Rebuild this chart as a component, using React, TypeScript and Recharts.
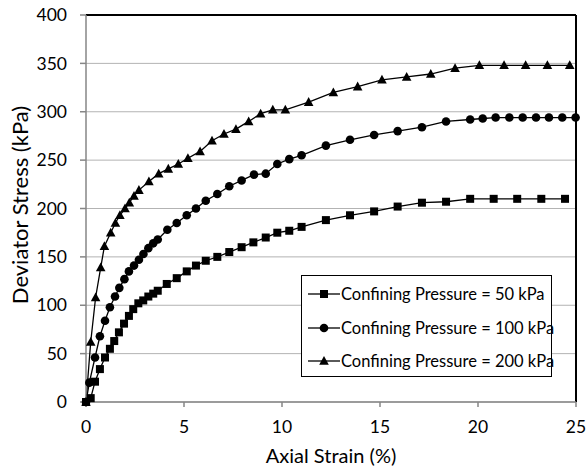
import React from "react";
import {
  LineChart,
  Line,
  XAxis,
  YAxis,
  CartesianGrid,
  ReferenceLine,
} from "recharts";

// Axial strain (%) / deviator stress (kPa)
const strain50 = [0, 0.24, 0.46, 0.71, 0.97, 1.22, 1.44, 1.68, 1.94, 2.19, 2.41, 2.67, 2.92, 3.18, 3.43, 3.66, 4.12, 4.63, 5.14, 5.61, 6.11, 6.7, 7.31, 7.94, 8.54, 9.17, 9.76, 10.37, 11.0, 12.24, 13.47, 14.7, 15.9, 17.14, 18.37, 19.6, 20.8, 22.0, 23.23, 24.44];
const stress50 = [0, 4, 21, 34, 46, 55, 63, 72, 81, 89, 96, 102, 105, 109, 112, 115, 122, 128, 135, 141, 146, 150, 155, 160, 165, 170, 175, 177, 181, 188, 193, 197, 202, 206, 207, 210, 210, 210, 210, 210];

const strain100 = [0, 0.17, 0.46, 0.71, 0.97, 1.22, 1.48, 1.7, 1.96, 2.19, 2.45, 2.7, 2.93, 3.18, 3.43, 3.66, 4.15, 4.63, 5.14, 5.61, 6.11, 6.7, 7.31, 7.94, 8.57, 9.17, 9.76, 10.37, 11.0, 12.24, 13.47, 14.7, 15.9, 17.14, 18.37, 19.6, 20.24, 20.9, 21.6, 22.28, 22.96, 23.62, 24.3, 24.98];
const stress100 = [0, 20, 46, 68, 84, 98, 109, 118, 127, 135, 141, 147, 153, 159, 164, 168, 178, 185, 193, 200, 208, 215, 223, 229, 235, 236, 246, 251, 255, 265, 271, 276, 280, 284, 290, 292, 293, 294, 294, 294, 294, 294, 294, 294];

const strain200 = [0, 0.24, 0.49, 0.75, 0.94, 1.26, 1.5, 1.73, 1.99, 2.21, 2.45, 2.7, 3.21, 3.71, 4.2, 4.71, 5.2, 5.82, 6.43, 7.04, 7.65, 8.3, 8.91, 9.53, 10.17, 11.36, 12.62, 13.86, 15.1, 16.36, 17.59, 18.83, 20.07, 21.33, 22.43, 23.54, 24.68];
const stress200 = [0, 62, 108, 139, 161, 175, 185, 193, 200, 206, 213, 219, 228, 236, 241, 246, 252, 259, 270, 277, 282, 290, 298, 302, 302, 310, 320, 326, 333, 336, 339, 345, 348, 348, 348, 348, 348];

const seriesNames = [
  "Confining Pressure = 50 kPa",
  "Confining Pressure = 100 kPa",
  "Confining Pressure = 200 kPa",
];
const xTicks = [0, 5, 10, 15, 20, 25];
const yTicks = [0, 50, 100, 150, 200, 250, 300, 350, 400];

const FONT = "Lato, 'Liberation Sans', sans-serif";

const toRows = (xs: number[], ys: number[]) =>
  xs.map((x, i) => ({ strain: x, stress: ys[i] }));

type Shape = "square" | "circle" | "triangle";

function Marker({ cx, cy, shape }: { cx: number; cy: number; shape: Shape }) {
  if (shape === "square")
    return <rect x={cx - 4} y={cy - 4} width={8} height={8} fill="#000" />;
  if (shape === "circle") return <circle cx={cx} cy={cy} r={4.3} fill="#000" />;
  return (
    <polygon
      points={`${cx},${cy - 5} ${cx - 4.8},${cy + 3.8} ${cx + 4.8},${cy + 3.8}`}
      fill="#000"
    />
  );
}

const makeDot = (shape: Shape) => (props: any) => {
  const { cx, cy, index } = props;
  if (cx == null || cy == null) return <g key={index} />;
  return <Marker key={index} cx={cx} cy={cy} shape={shape} />;
};

const series = [
  { name: seriesNames[0], data: toRows(strain50, stress50), shape: "square" as Shape },
  { name: seriesNames[1], data: toRows(strain100, stress100), shape: "circle" as Shape },
  { name: seriesNames[2], data: toRows(strain200, stress200), shape: "triangle" as Shape },
];

export default function App() {
  return (
    <div
      style={{
        position: "absolute",
        left: 0,
        top: 0,
        width: 586,
        height: 475,
        background: "#fff",
        fontFamily: FONT,
      }}
    >
      <LineChart
        width={586}
        height={475}
        margin={{ top: 15, right: 10, left: 26, bottom: 0 }}
      >
        <CartesianGrid vertical={false} stroke="#b3b3b3" strokeWidth={1} />
        <XAxis
          dataKey="strain"
          type="number"
          domain={[0, 25]}
          ticks={xTicks}
          allowDuplicatedCategory={false}
          height={73}
          stroke="#868686"
          strokeWidth={1.5}
          tickSize={5}
          tickMargin={14}
          tick={{ fontSize: 17.5, fill: "#000", fontFamily: FONT }}
          label={({ viewBox }: any) => (
            <text
              x={viewBox.x + viewBox.width / 2}
              y={viewBox.y + 61}
              textAnchor="middle"
              fontSize={20}
              fontFamily={FONT}
              fill="#000"
            >
              Axial Strain (%)
            </text>
          )}
        />
        <YAxis
          type="number"
          domain={[0, 400]}
          ticks={yTicks}
          width={60}
          stroke="#868686"
          strokeWidth={1.5}
          tickSize={6}
          tickMargin={13}
          tick={{ fontSize: 17.5, fill: "#000", fontFamily: FONT }}
          label={() => (
            <text
              x={28}
              y={205}
              transform="rotate(-90, 28, 205)"
              textAnchor="middle"
              fontSize={22}
              fontFamily={FONT}
              fill="#000"
            >
              Deviator Stress (kPa)
            </text>
          )}
        />
        <ReferenceLine y={400} stroke="#000" strokeWidth={2} />
        <ReferenceLine x={25} stroke="#000" strokeWidth={2} />
        {series.map((s) => (
          <Line
            key={s.name}
            name={s.name}
            data={s.data}
            dataKey="stress"
            type="linear"
            stroke="#000"
            strokeWidth={1.3}
            dot={makeDot(s.shape)}
            activeDot={false}
            isAnimationActive={false}
          />
        ))}
      </LineChart>
      <div
        style={{
          position: "absolute",
          left: 301,
          top: 275,
          width: 249,
          height: 100,
          border: "1px solid #000",
          background: "#fff",
          boxSizing: "content-box",
        }}
      >
        {series.map((s, i) => (
          <div
            key={s.name}
            style={{
              position: "absolute",
              left: 6,
              top: 7 + i * 33.5,
              height: 22,
              display: "flex",
              alignItems: "center",
              whiteSpace: "nowrap",
              fontSize: 16.5,
              color: "#000",
            }}
          >
            <svg width={32} height={22} style={{ display: "block" }}>
              <line x1={0} y1={11} x2={32} y2={11} stroke="#000" strokeWidth={1.3} />
              <Marker cx={16} cy={11} shape={s.shape} />
            </svg>
            <span style={{ marginLeft: 1 }}>{s.name}</span>
          </div>
        ))}
      </div>
    </div>
  );
}
